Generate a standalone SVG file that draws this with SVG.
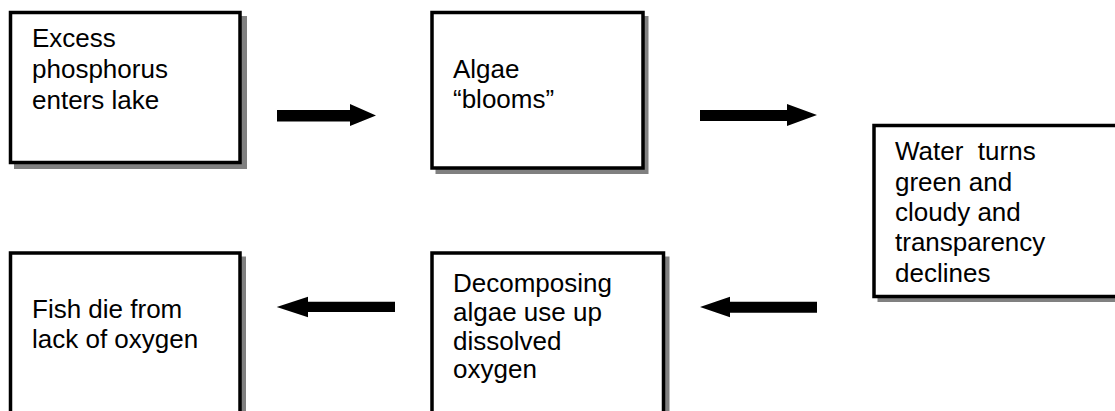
<svg xmlns="http://www.w3.org/2000/svg" width="1115" height="411" viewBox="0 0 1115 411">
<style>
.shadow{fill:#808080;stroke:none}
.box{fill:#fff;stroke:#000;stroke-width:3.5}
.t{font-family:"Liberation Sans",Arial,sans-serif;font-size:26px;fill:#000}
.arrow{fill:#000;stroke:none}
</style>
<rect width="1115" height="411" fill="#fff"/>
<g id="node-phosphorus">
<rect class="shadow" x="14" y="16" width="233" height="153"/>
<rect class="box" x="10.5" y="12.5" width="229.5" height="150"/>
<text class="t" x="32" y="47">Excess</text>
<text class="t" x="32" y="78">phosphorus</text>
<text class="t" x="32" y="109">enters lake</text>
</g>
<g id="node-algae">
<rect class="shadow" x="435.5" y="16" width="213" height="158"/>
<rect class="box" x="432" y="12.5" width="211" height="155.5"/>
<text class="t" x="453" y="78">Algae</text>
<text class="t" x="453" y="108">“blooms”</text>
</g>
<g id="node-water">
<rect class="shadow" x="877.5" y="129" width="250" height="173"/>
<rect class="box" x="874" y="125.5" width="250" height="171"/>
<text class="t" x="895" y="160" xml:space="preserve">Water  turns</text>
<text class="t" x="895" y="190.5">green and</text>
<text class="t" x="895" y="220.5">cloudy and</text>
<text class="t" x="895" y="251">transparency</text>
<text class="t" x="895" y="281.5">declines</text>
</g>
<g id="node-decomposing">
<rect class="shadow" x="435.5" y="256.5" width="234" height="170"/>
<rect class="box" x="432" y="253" width="231.5" height="170"/>
<text class="t" x="453" y="291.5">Decomposing</text>
<text class="t" x="453" y="320.5">algae use up</text>
<text class="t" x="453" y="349.5">dissolved</text>
<text class="t" x="453" y="378">oxygen</text>
</g>
<g id="node-fish">
<rect class="shadow" x="14" y="256.5" width="232" height="170"/>
<rect class="box" x="10.5" y="253" width="229.5" height="170"/>
<text class="t" x="32" y="318">Fish die from</text>
<text class="t" x="32" y="348">lack of oxygen</text>
</g>
<g id="connectors">
<polygon class="arrow" points="277,110 350,110 350,104 376,115.5 350,126 350,121.5 277,121.5"/>
<polygon class="arrow" points="700,110 787,110 787,104 817,115 787,126 787,121 700,121"/>
<polygon class="arrow" points="817,301.7 730,301.7 730,296.7 700,307 730,317.3 730,312.7 817,312.7"/>
<polygon class="arrow" points="395,301.7 308,301.7 308,296.7 276.7,307 308,317.3 308,312 395,312"/>
</g>
</svg>
